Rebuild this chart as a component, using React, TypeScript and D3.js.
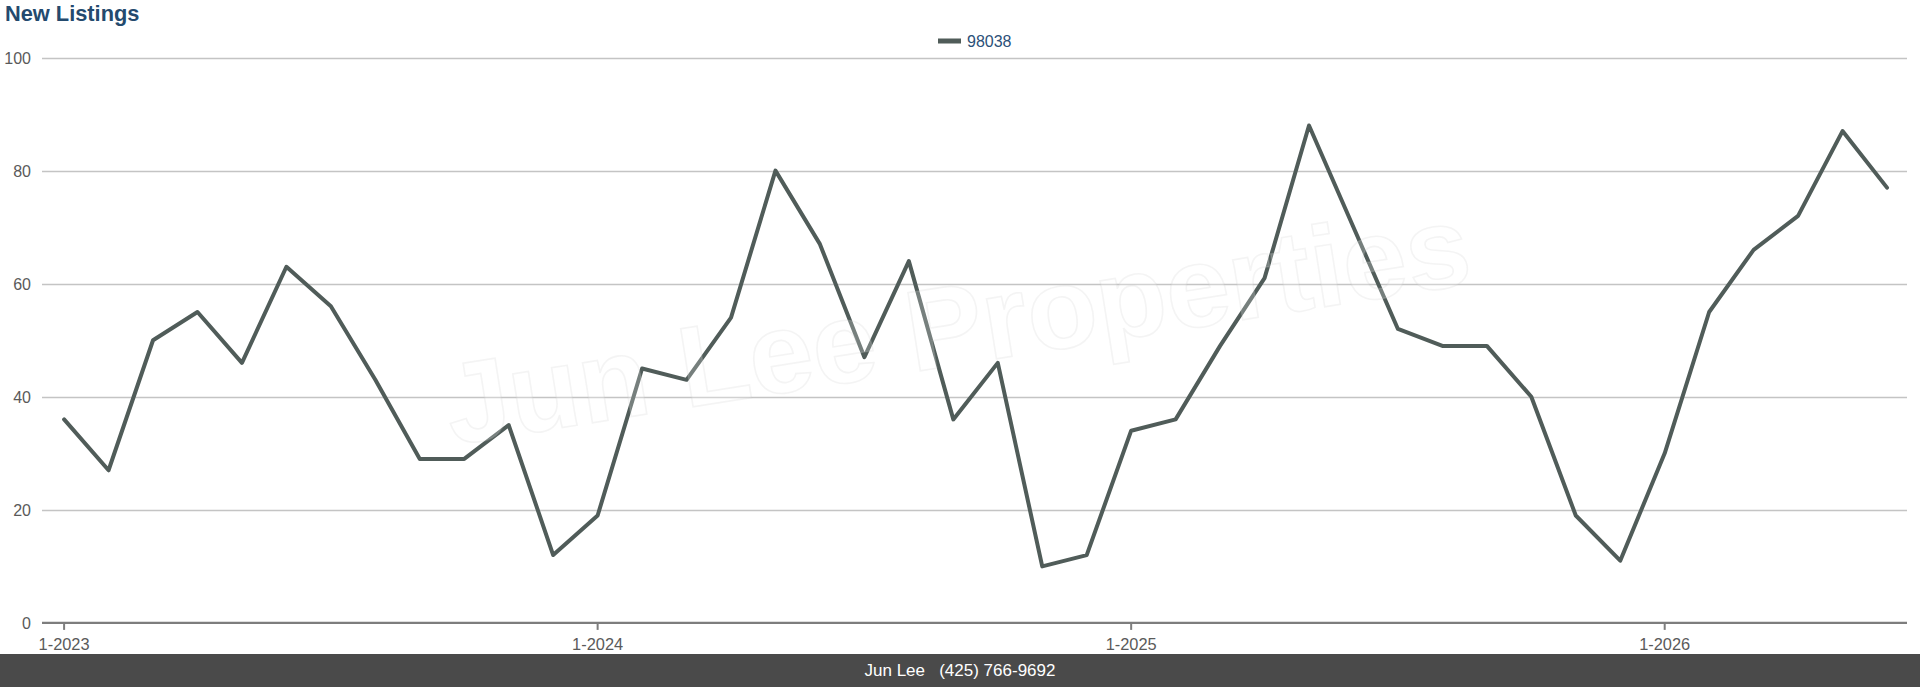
import React, { useEffect, useRef } from "react";
import * as d3 from "d3";

// monthly new listings for zip 98038, 1-2023 .. 6-2026
const months = d3.range(42);
const listings = [
  36, 27, 50, 55, 46, 63, 56, 43, 29, 29, 35, 12,
  19, 45, 43, 54, 80, 67, 47, 64, 36, 46, 10, 12,
  34, 36, 49, 61, 88, 70, 52, 49, 49, 40, 19, 11,
  30, 55, 66, 72, 87, 77,
];
const xTickIdx = [0, 12, 24, 36];
const xTickLabels = ["1-2023", "1-2024", "1-2025", "1-2026"];
const yTicks = [0, 20, 40, 60, 80, 100];
const seriesName = "98038";

const W = 1920;
const H = 687;
const FONT = "'Liberation Sans', Arial, Helvetica, sans-serif";

export default function App() {
  const ref = useRef<SVGSVGElement>(null);

  useEffect(() => {
    if (!ref.current) return;
    const svg = d3.select(ref.current);
    svg.selectAll("*").remove();

    const plotLeft = 42;
    const plotRight = 1907;

    const x = d3.scaleLinear().domain([0, 41]).range([64.1, 1887]);
    const y = d3.scaleLinear().domain([0, 100]).range([622.9, 57.6]);

    // title
    svg.append("text")
      .attr("x", 5)
      .attr("y", 21)
      .attr("font-family", FONT)
      .attr("font-weight", "bold")
      .attr("font-size", 21.8)
      .attr("fill", "#244a6e")
      .text("New Listings");

    // legend
    svg.append("rect")
      .attr("x", 938)
      .attr("y", 38.5)
      .attr("width", 23)
      .attr("height", 5)
      .attr("fill", "#505c59");
    svg.append("text")
      .attr("x", 967)
      .attr("y", 46.5)
      .attr("font-family", FONT)
      .attr("font-size", 16)
      .attr("fill", "#2b5078")
      .text(seriesName);

    // grid
    svg.append("g")
      .selectAll("line")
      .data(yTicks.filter(t => t > 0))
      .enter()
      .append("line")
      .attr("x1", plotLeft)
      .attr("x2", plotRight)
      .attr("y1", d => Math.round(y(d)) + 0.5)
      .attr("y2", d => Math.round(y(d)) + 0.5)
      .attr("stroke", "#c4c4c4")
      .attr("stroke-width", 1.3);

    // y labels
    svg.append("g")
      .selectAll("text")
      .data(yTicks)
      .enter()
      .append("text")
      .attr("x", 31)
      .attr("y", d => y(d) + 6)
      .attr("text-anchor", "end")
      .attr("font-family", FONT)
      .attr("font-size", 16)
      .attr("fill", "#5a5a5a")
      .text(d => d);

    // line
    const line = d3.line<number>()
      .x((_, i) => x(months[i]))
      .y(d => y(d));
    svg.append("path")
      .datum(listings)
      .attr("d", line)
      .attr("fill", "none")
      .attr("stroke", "#505c59")
      .attr("stroke-width", 4)
      .attr("stroke-linejoin", "round")
      .attr("stroke-linecap", "round");

    // x axis
    svg.append("line")
      .attr("x1", plotLeft)
      .attr("x2", plotRight)
      .attr("y1", y(0))
      .attr("y2", y(0))
      .attr("stroke", "#7d7d7d")
      .attr("stroke-width", 2.3);
    svg.append("g")
      .selectAll("line")
      .data(xTickIdx)
      .enter()
      .append("line")
      .attr("x1", d => x(d))
      .attr("x2", d => x(d))
      .attr("y1", y(0))
      .attr("y2", y(0) + 7)
      .attr("stroke", "#7d7d7d")
      .attr("stroke-width", 2);
    svg.append("g")
      .selectAll("text")
      .data(xTickIdx)
      .enter()
      .append("text")
      .attr("x", d => x(d))
      .attr("y", 650)
      .attr("text-anchor", "middle")
      .attr("font-family", FONT)
      .attr("font-size", 16.4)
      .attr("fill", "#5a5a5a")
      .text((_, i) => xTickLabels[i]);

    // watermark
    svg.append("text")
      .attr("transform", "translate(452,445) rotate(-9)")
      .attr("font-family", FONT)
      .attr("font-weight", "bold")
      .attr("font-size", 115)
      .attr("fill", "rgba(255,255,255,0.22)")
      .attr("stroke", "rgba(200,200,200,0.2)")
      .attr("stroke-width", 1.6)
      .text("Jun Lee Properties");

    // footer
    svg.append("rect")
      .attr("x", 0)
      .attr("y", 654)
      .attr("width", W)
      .attr("height", H - 654)
      .attr("fill", "#4a4a4a");
    svg.append("text")
      .attr("x", W / 2)
      .attr("y", 676)
      .attr("text-anchor", "middle")
      .attr("font-family", FONT)
      .attr("font-size", 17)
      .attr("fill", "#ffffff")
      .style("white-space", "pre")
      .text("Jun Lee   (425) 766-9692");
  }, []);

  return (
    <svg
      ref={ref}
      width={W}
      height={H}
      style={{ position: "absolute", left: 0, top: 0, background: "#fff" }}
    />
  );
}
